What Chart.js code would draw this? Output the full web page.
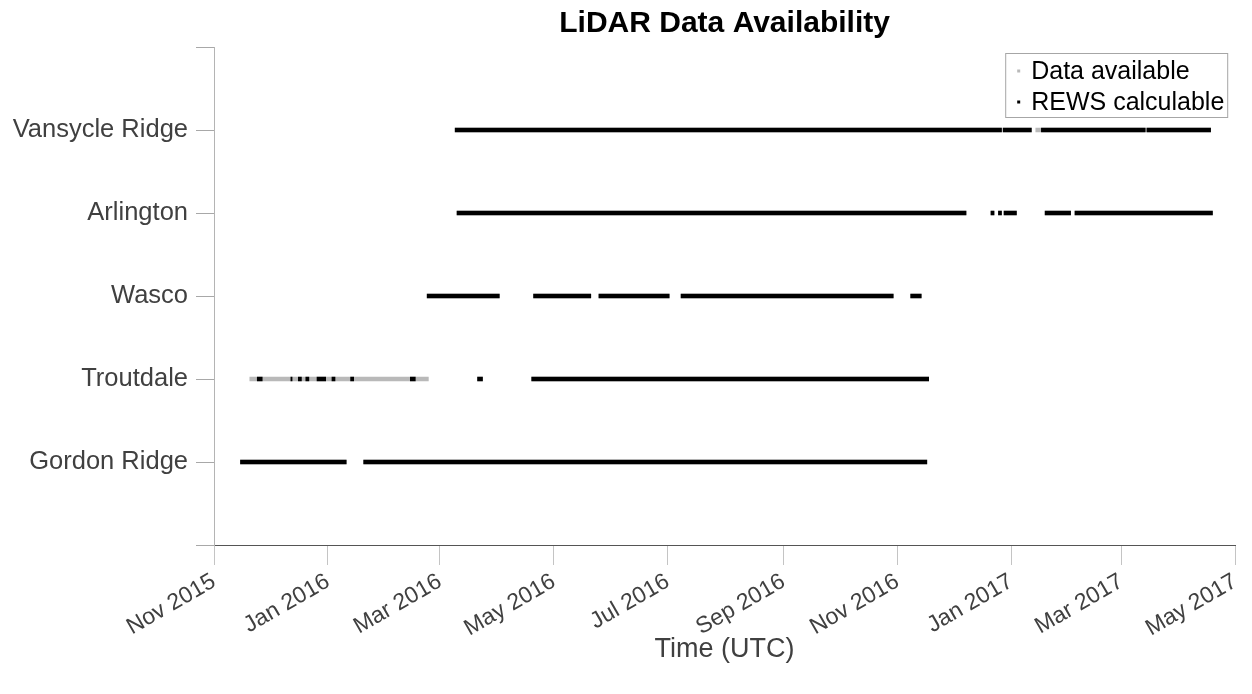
<!DOCTYPE html>
<html>
<head>
<meta charset="utf-8">
<title>LiDAR Data Availability</title>
<script src="https://cdn.jsdelivr.net/npm/chart.js@4.4.0/dist/chart.umd.min.js"></script>
<style>
  html, body { margin: 0; padding: 0; background: #ffffff; }
  #wrap { width: 1252px; height: 694px; }
</style>
</head>
<body>
<div id="wrap"><canvas id="chart" width="1252" height="694"></canvas></div>
<script>
// Sites, bottom to top
const sites = ['Gordon Ridge', 'Troutdale', 'Wasco', 'Arlington', 'Vansycle Ridge'];
const seriesLabels = ['Data available', 'REWS calculable'];
const seriesColors = ['#b9b9b9', '#000000'];

// Month ticks along the time axis
const tickDates = ['2015-11-01', '2016-01-01', '2016-03-01', '2016-05-01', '2016-07-01',
                   '2016-09-01', '2016-11-01', '2017-01-01', '2017-03-01', '2017-05-01'];
const tickLabels = ['Nov 2015', 'Jan 2016', 'Mar 2016', 'May 2016', 'Jul 2016',
                    'Sep 2016', 'Nov 2016', 'Jan 2017', 'Mar 2017', 'May 2017'];

// Periods where REWS could be calculated, [start, end]
const gordonRews = [['2015-11-15', '2016-01-11'], ['2016-01-20', '2016-11-17']];
const troutdaleRews = [
  ['2015-11-24', '2015-11-27'], ['2015-12-12', '2015-12-13'], ['2015-12-16', '2015-12-18'],
  ['2015-12-20', '2015-12-22'], ['2015-12-26', '2015-12-31'], ['2016-01-03', '2016-01-05'],
  ['2016-01-13', '2016-01-15'], ['2016-02-14', '2016-02-17'], ['2016-03-21', '2016-03-24'],
  ['2016-04-19', '2016-11-18']
];
const wascoRews = [
  ['2016-02-23', '2016-04-02'], ['2016-04-20', '2016-05-21'], ['2016-05-25', '2016-07-02'],
  ['2016-07-08', '2016-10-30'], ['2016-11-08', '2016-11-14']
];
const arlingtonRews = [
  ['2016-03-10', '2016-12-08'], ['2016-12-21', '2016-12-23'], ['2016-12-25', '2016-12-27'],
  ['2016-12-28', '2017-01-04'], ['2017-01-19', '2017-02-02'], ['2017-02-04', '2017-04-19']
];
const vansycleRews = [
  ['2016-03-09', '2016-12-27'], ['2016-12-27T12:00', '2017-01-12'],
  ['2017-01-17', '2017-03-14'], ['2017-03-14T12:00', '2017-04-18']
];

// Periods with data recorded but no REWS
const troutdaleDataOnly = [['2015-11-20', '2016-02-24']];
const vansycleDataOnly = [['2017-01-14', '2017-01-17']];

const rewsBySite = [gordonRews, troutdaleRews, wascoRews, arlingtonRews, vansycleRews];
const dataOnlyBySite = [[], troutdaleDataOnly, [], [], vansycleDataOnly];

// Dates become fractional day numbers (UTC)
function toDay(s) {
  const iso = s.length === 10 ? s + 'T00:00:00Z' : s + ':00Z';
  return Date.parse(iso) / 86400000;
}

// Each period becomes a two-point run on the site's row, broken by a gap point
function periodsToPoints(periodLists) {
  const pts = [];
  periodLists.forEach((periods, i) => {
    const y = i + 1;
    periods.forEach(([s, e]) => {
      pts.push({ x: toDay(s), y: y });
      pts.push({ x: toDay(e), y: y });
      pts.push({ x: toDay(e), y: null });
    });
  });
  return pts;
}

const availablePoints = periodsToPoints(rewsBySite.map((r, i) => dataOnlyBySite[i].concat(r)));
const rewsPoints = periodsToPoints(rewsBySite);

const FONT = "'Liberation Sans', Arial, Helvetica, sans-serif";
Chart.defaults.font.family = FONT;

// Boxed legend in the upper right of the plot area
const boxedLegend = {
  id: 'boxedLegend',
  afterDraw(chart) {
    const ctx = chart.ctx;
    const area = chart.chartArea;
    ctx.save();
    ctx.font = '25px ' + FONT;
    const textW = Math.max(...seriesLabels.map(t => ctx.measureText(t).width));
    const w = Math.round(26 + textW + 3);
    const h = 64;
    const right = area.right - 8;
    const left = right - w;
    const top = area.top + 6;
    ctx.fillStyle = '#ffffff';
    ctx.fillRect(left, top, w, h);
    ctx.strokeStyle = '#a6a6a6';
    ctx.lineWidth = 1;
    ctx.strokeRect(left + 0.5, top + 0.5, w, h);
    seriesLabels.forEach((label, i) => {
      const cy = top + 18 + i * 31;
      ctx.fillStyle = seriesColors[i];
      ctx.fillRect(left + 12, cy - 1.5, 3, 3);
      ctx.fillStyle = '#000000';
      ctx.textBaseline = 'middle';
      ctx.textAlign = 'left';
      ctx.fillText(label, left + 26, cy + 1);
    });
    ctx.restore();
  }
};

new Chart(document.getElementById('chart'), {
  type: 'line',
  data: {
    datasets: [
      {
        label: seriesLabels[0],
        data: availablePoints,
        borderColor: seriesColors[0],
        borderWidth: 4.5,
        borderCapStyle: 'butt',
        pointRadius: 0,
        spanGaps: false,
        order: 2
      },
      {
        label: seriesLabels[1],
        data: rewsPoints,
        borderColor: seriesColors[1],
        borderWidth: 4.5,
        borderCapStyle: 'butt',
        pointRadius: 0,
        spanGaps: false,
        order: 1
      }
    ]
  },
  options: {
    responsive: false,
    animation: false,
    devicePixelRatio: 1,
    layout: { padding: { left: 0, right: 4, top: 0, bottom: 0 } },
    plugins: {
      legend: { display: false },
      tooltip: { enabled: false },
      title: {
        display: true,
        fullSize: false,
        text: 'LiDAR Data Availability',
        color: '#000000',
        font: { size: 30, weight: 'bold' },
        padding: { top: 6, bottom: 5 }
      }
    },
    scales: {
      x: {
        type: 'linear',
        min: toDay(tickDates[0]),
        max: toDay(tickDates[tickDates.length - 1]),
        afterBuildTicks(scale) {
          scale.ticks = tickDates.map(d => ({ value: toDay(d) }));
        },
        afterFit(scale) { scale.height = 149; },
        ticks: {
          autoSkip: false,
          minRotation: 30,
          maxRotation: 30,
          padding: 3,
          color: '#404040',
          font: { size: 23 },
          callback: (v, i) => tickLabels[i]
        },
        grid: {
          drawOnChartArea: false,
          drawTicks: true,
          tickLength: 20,
          color: '#c4c4c4'
        },
        border: { display: true, color: '#555555', width: 1 },
        title: {
          display: true,
          text: 'Time (UTC)',
          color: '#404040',
          font: { size: 27 },
          padding: { top: 4, bottom: 28 }
        }
      },
      y: {
        type: 'linear',
        min: 0,
        max: 6,
        afterBuildTicks(scale) {
          scale.ticks = [0, 1, 2, 3, 4, 5, 6].map(v => ({ value: v }));
        },
        afterFit(scale) { scale.width = 214; },
        ticks: {
          padding: 8,
          color: '#404040',
          font: { size: 25.5 },
          callback: v => sites[v - 1] || ''
        },
        grid: {
          drawOnChartArea: false,
          drawTicks: true,
          tickLength: 18,
          color: '#a8a8a8'
        },
        border: { display: true, color: '#b4b4b4', width: 1 }
      }
    }
  },
  plugins: [boxedLegend]
});
</script>
</body>
</html>
